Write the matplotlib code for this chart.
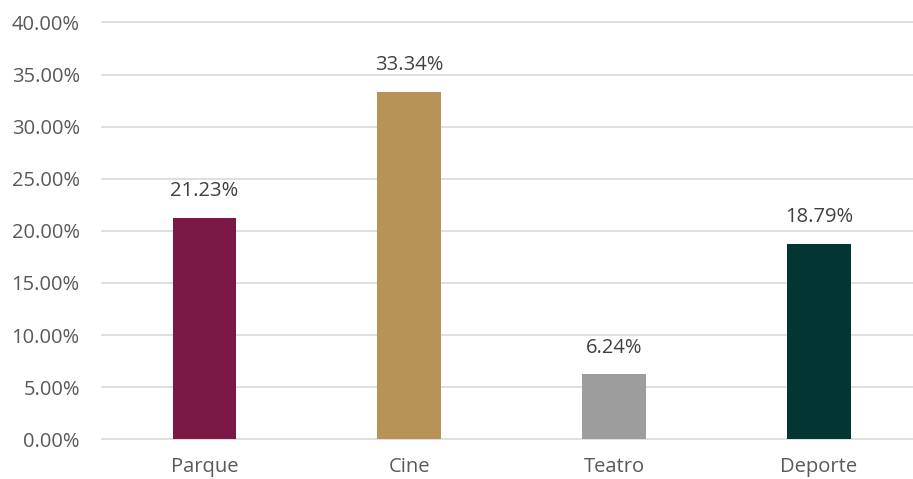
import matplotlib.pyplot as plt
import matplotlib.ticker as mticker

categories = ["Parque", "Cine", "Teatro", "Deporte"]
values = [21.23, 33.34, 6.24, 18.79]
colors = ["#7B1845", "#B89358", "#9D9D9D", "#033632"]
yticks = [0, 5, 10, 15, 20, 25, 30, 35, 40]

plt.rcParams['font.family'] = ['Open Sans', 'DejaVu Sans']
fig = plt.figure(figsize=(9.13, 4.79), dpi=100)
ax = fig.add_axes([102/913, 1 - 439.3/479, (913-102)/913, (439.3-22.5)/479])

x = range(len(categories))
bars = ax.bar(x, values, width=0.31, color=colors, zorder=3)
for xi, v in zip(x, values):
    ax.text(xi, v + 1.6, f"{v:.2f}%", ha='center', va='bottom', fontsize=14.5, color='#404040')

ax.set_ylim(0, 40)
ax.set_xlim(-0.5, 3.46)
ax.set_yticks(yticks)
ax.yaxis.set_major_formatter(mticker.FuncFormatter(lambda v, p: f"{v:.2f}%"))
ax.set_xticks(list(x))
ax.set_xticklabels(categories)
ax.grid(axis='y', color='#D9D9D9', linewidth=1.2, zorder=0)
for gl in ax.get_ygridlines():
    gl.set_clip_on(False)
for s in ax.spines.values():
    s.set_visible(False)
ax.tick_params(axis='both', length=0, labelsize=14.5, colors='#595959')
ax.tick_params(axis='y', pad=16)
ax.tick_params(axis='x', pad=13)

fig.savefig("out.png", dpi=100)
